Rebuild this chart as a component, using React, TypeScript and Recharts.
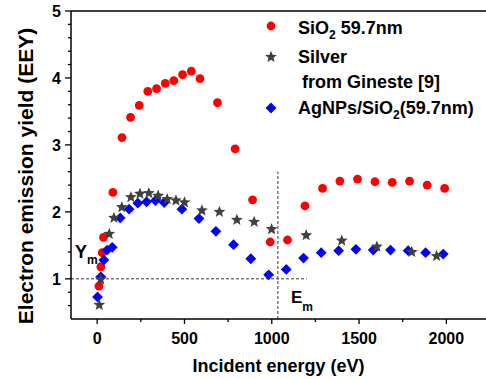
import React from "react";
import { ScatterChart, Scatter, XAxis, YAxis, ReferenceLine, Label } from "recharts";

// SiO2 59.7nm (red circles)
const sio2Energy = [10, 21, 29, 36, 90, 142, 191, 241, 290, 340, 390, 439, 489, 539, 589, 689, 790, 890, 991, 1090, 1190, 1291, 1390, 1491, 1591, 1690, 1789, 1890, 1990];
const sio2Yield = [0.89, 1.18, 1.39, 1.62, 2.29, 3.11, 3.41, 3.59, 3.8, 3.84, 3.92, 3.96, 4.05, 4.1, 3.99, 3.63, 2.94, 2.18, 1.55, 1.58, 2.09, 2.35, 2.46, 2.49, 2.45, 2.44, 2.46, 2.4, 2.35];

// Silver from Gineste [9] (grey stars)
const silverEnergy = [12, 20, 69, 96, 141, 193, 245, 296, 349, 401, 451, 500, 600, 700, 800, 899, 999, 1197, 1401, 1602, 1802, 1944];
const silverYield = [0.61, 0.99, 1.67, 1.91, 2.07, 2.22, 2.27, 2.28, 2.24, 2.19, 2.17, 2.14, 2.02, 2.0, 1.88, 1.85, 1.74, 1.65, 1.57, 1.48, 1.4, 1.34];

// AgNPs/SiO2(59.7nm) (blue diamonds)
const agEnergy = [2, 21, 38, 57, 86, 132, 183, 233, 283, 334, 384, 485, 583, 680, 781, 880, 982, 1083, 1182, 1283, 1383, 1482, 1581, 1680, 1781, 1881, 1982];
const agYield = [0.73, 1.03, 1.28, 1.43, 1.47, 1.91, 2.04, 2.13, 2.15, 2.17, 2.14, 2.04, 1.9, 1.71, 1.51, 1.3, 1.06, 1.14, 1.31, 1.39, 1.42, 1.44, 1.43, 1.43, 1.42, 1.39, 1.37];

const xTicks = [0, 250, 500, 750, 1000, 1250, 1500, 1750, 2000];
const xLabels = ["0", "500", "1000", "1500", "2000"];
const yTicks = [0.6, 0.8, 1, 1.2, 1.4, 1.6, 1.8, 2, 2.2, 2.4, 2.6, 2.8, 3, 3.2, 3.4, 3.6, 3.8, 4, 4.2, 4.4, 4.6, 4.8, 5];
const yLabels = ["1", "2", "3", "4", "5"];

const Em = 1035;

const toPoints = (xs: number[], ys: number[]) => xs.map((x, i) => ({ x, y: ys[i] }));
const sio2Data = toPoints(sio2Energy, sio2Yield);
const silverData = toPoints(silverEnergy, silverYield);
const agData = toPoints(agEnergy, agYield);

const FONT = "'Liberation Sans', Arial, sans-serif";
const RED = "#ff0000";
const BLUE = "#0000ff";
const GREY = "#404040";

function starPath(cx: number, cy: number, R: number, r: number) {
  let d = "";
  for (let i = 0; i < 10; i++) {
    const rad = i % 2 === 0 ? R : r;
    const a = -Math.PI / 2 + (i * Math.PI) / 5;
    d += (i === 0 ? "M" : "L") + (cx + rad * Math.cos(a)).toFixed(2) + "," + (cy + rad * Math.sin(a)).toFixed(2);
  }
  return d + "Z";
}

const Dot = (p: any) => <circle cx={p.cx} cy={p.cy} r={4.4} fill={RED} />;
const Diamond = (p: any) => (
  <path d={`M${p.cx},${p.cy - 5.4}L${p.cx + 5.4},${p.cy}L${p.cx},${p.cy + 5.4}L${p.cx - 5.4},${p.cy}Z`} fill={BLUE} />
);
const Star = (p: any) => <path d={starPath(p.cx, p.cy, 6.2, 2.7)} fill={GREY} />;

const XTick = (p: any) => {
  const v = p.payload.value;
  const major = v % 500 === 0;
  return (
    <g>
      <line x1={p.x} x2={p.x} y1={p.y} y2={p.y + (major ? 5 : 3)} stroke="#000" strokeWidth={1.3} />
      {major && (
        <text x={p.x} y={p.y + 24.5} textAnchor="middle" fontFamily={FONT} fontWeight="bold" fontSize={16} fill="#000">
          {xLabels[v / 500]}
        </text>
      )}
    </g>
  );
};

const YTick = (p: any) => {
  const v = p.payload.value;
  const major = Math.abs(v - Math.round(v)) < 1e-6;
  return (
    <g>
      <line x1={p.x - (major ? 6 : 3)} x2={p.x} y1={p.y} y2={p.y} stroke="#000" strokeWidth={1.3} />
      {major && (
        <text x={p.x - 10} y={p.y + 5.8} textAnchor="end" fontFamily={FONT} fontWeight="bold" fontSize={16} fill="#000">
          {yLabels[Math.round(v) - 1]}
        </text>
      )}
    </g>
  );
};

export default function App() {
  const textProps = { fontFamily: FONT, fontWeight: "bold" as const, fill: "#000" };
  return (
    <div style={{ position: "absolute", left: 0, top: 0, width: 486, height: 379, background: "#fff" }}>
      <ScatterChart width={486} height={379} margin={{ top: 11, right: 0, bottom: 0, left: 0 }}>
        <XAxis
          type="number"
          dataKey="x"
          domain={[-150, 2227]}
          ticks={xTicks}
          interval={0}
          allowDataOverflow
          height={60}
          tickSize={0}
          tickMargin={0}
          tick={<XTick />}
          axisLine={{ stroke: "#000", strokeWidth: 1.5 }}
        >
          <Label
            value="Incident energy (eV)"
            position="insideBottom"
            offset={7}
            style={{ fontFamily: FONT, fontWeight: "bold", fontSize: 18, fill: "#000" }}
          />
        </XAxis>
        <YAxis
          type="number"
          dataKey="y"
          domain={[0.4, 5]}
          ticks={yTicks}
          interval={0}
          allowDataOverflow
          width={71}
          tickSize={0}
          tickMargin={0}
          tick={<YTick />}
          axisLine={{ stroke: "#000", strokeWidth: 1.5 }}
        />
        <ReferenceLine y={5} stroke="#000" strokeWidth={1.5} />
        <ReferenceLine
          segment={[{ x: -150, y: 1 }, { x: 1200, y: 1 }]}
          stroke="#333"
          strokeDasharray="3 2"
          strokeWidth={1}
        />
        <ReferenceLine
          segment={[{ x: Em, y: 0.4 }, { x: Em, y: 2.6 }]}
          stroke="#333"
          strokeDasharray="3 2"
          strokeWidth={1}
        />
        <Scatter data={sio2Data} shape={Dot} isAnimationActive={false} />
        <Scatter data={agData} shape={Diamond} isAnimationActive={false} />
        <Scatter data={silverData} shape={Star} isAnimationActive={false} />
      </ScatterChart>
      <svg width={486} height={379} style={{ position: "absolute", left: 0, top: 0, pointerEvents: "none" }}>
        <text {...textProps} fontSize={21} textAnchor="middle" transform="rotate(-90, 33, 176)" x={33} y={176}>
          Electron emission yield (EEY)
        </text>
        <text {...textProps} fontSize={18} x={75} y={258}>
          Y<tspan fontSize={12} dy={6}>m</tspan>
        </text>
        <text {...textProps} fontSize={17} x={291} y={303}>
          E<tspan fontSize={12} dy={8}>m</tspan>
        </text>
        {/* legend */}
        <circle cx={271} cy={26} r={4.4} fill={RED} />
        <text {...textProps} fontSize={18} x={298} y={34}>
          SiO<tspan fontSize={12} dy={5}>2</tspan>
          <tspan dy={-5}> 59.7nm</tspan>
        </text>
        <path d={starPath(271, 57, 6.2, 2.7)} fill={GREY} />
        <text {...textProps} fontSize={18} x={298} y={63}>
          Silver
        </text>
        <text {...textProps} fontSize={18} x={302} y={88}>
          from Gineste [9]
        </text>
        <path d="M271,102.6L276.4,108L271,113.4L265.6,108Z" fill={BLUE} />
        <text {...textProps} fontSize={18} x={298} y={114}>
          AgNPs/SiO<tspan fontSize={12} dy={5}>2</tspan>
          <tspan dy={-5}>(59.7nm)</tspan>
        </text>
      </svg>
    </div>
  );
}
